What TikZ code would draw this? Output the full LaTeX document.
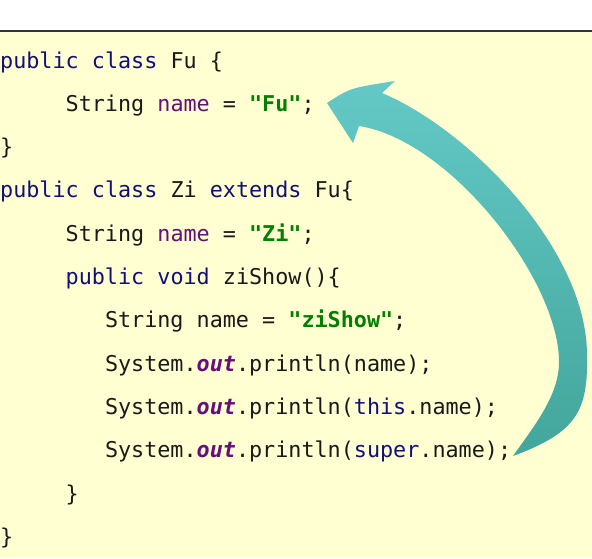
\documentclass[tikz,border=0pt]{standalone}
\usepackage{fontspec}
\setmonofont{DejaVu Sans Mono}
\usepackage{tikz}

\definecolor{paper}{RGB}{255,255,210}
\definecolor{kwblue}{RGB}{16,16,120}
\definecolor{fieldpurple}{RGB}{102,14,122}
\definecolor{strgreen}{RGB}{0,128,0}
\definecolor{arrowtop}{RGB}{100,200,198}
\definecolor{arrowbot}{RGB}{66,166,156}

\newcommand{\kw}[1]{\textcolor{kwblue}{#1}}
\newcommand{\fld}[1]{\textcolor{fieldpurple}{#1}}
\newcommand{\strg}[1]{\textcolor{strgreen}{\textbf{#1}}}
\newcommand{\outf}[1]{\textcolor{fieldpurple}{\textbf{\textit{#1}}}}
\newcommand{\codefont}{\ttfamily\fontsize{21.76}{26}\selectfont}

\begin{document}
\begin{tikzpicture}[x=1pt, y=-1pt,
    code/.style={anchor=base west, inner sep=0pt, font=\codefont, text=black!90}]
      % Background
      \useasboundingbox (0,0) rectangle (592,558);
      \fill[white] (0,0) rectangle (592,31);
      \fill[paper] (0,31) rectangle (592,558);
      \draw[line width=2pt, black!80] (0,31) -- (592,31);
      % Code lines
      \node[code] (l1)  at (0,68)   {\kw{public} \kw{class} Fu \{};
      \node[code] (l2)  at (65.5,111.3) {String \fld{name} = \strg{"Fu"};};
      \node[code] (l3)  at (0,154.6)  {\}};
      \node[code] (l4)  at (0,197.9)  {\kw{public} \kw{class} Zi \kw{extends} Fu\{};
      \node[code] (l5)  at (65.5,241.2) {String \fld{name} = \strg{"Zi"};};
      \node[code] (l6)  at (65.5,284.5)   {\kw{public} \kw{void} ziShow()\{};
      \node[code] (l7)  at (104.8,327.8) {String name = \strg{"ziShow"};};
      \node[code] (l8)  at (104.8,371.1) {System.\outf{out}.println(name);};
      \node[code] (l9)  at (104.8,414.4) {System.\outf{out}.println(\kw{this}.name);};
      \node[code] (l10) at (104.8,457.7) {System.\outf{out}.println(\kw{super}.name);};
      \node[code] (l11) at (65.5,501) {\}};
      \node[code] (l12) at (0,544.3)  {\}};
      % Curved arrow from super.name back to the field of Fu
      \coordinate (tail) at (513,456);
      \coordinate (tip)  at (327,103);
      \path[top color=arrowtop, bottom color=arrowbot]
        (tip) .. controls (350,88) .. (395,81) -- (382,93)
        .. controls (470,130) and (587,250) .. (587,355)
        .. controls (588,410) and (578,432) .. (tail)
        .. controls (535,425) and (559,395) .. (559,362)
        .. controls (559,280) and (450,140) .. (359,126)
        -- (353,143) -- cycle;
    \end{tikzpicture}
\end{document}
